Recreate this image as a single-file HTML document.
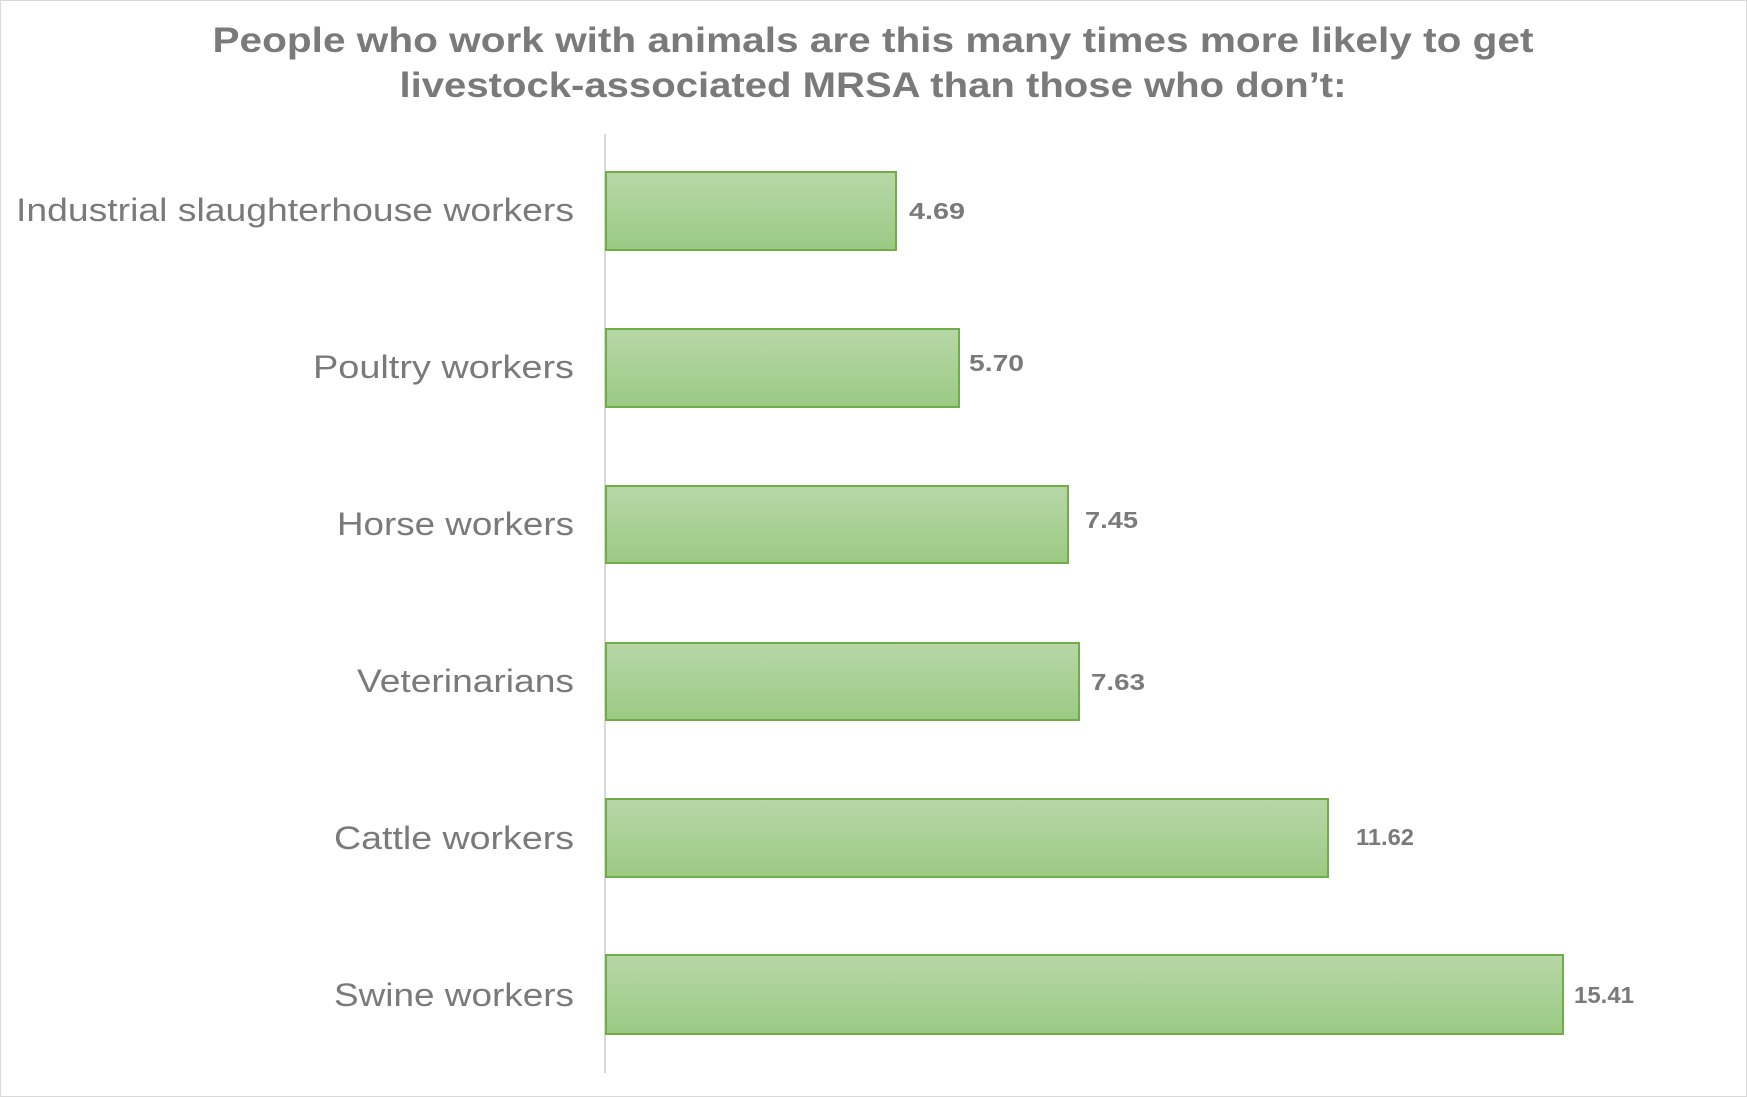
<!DOCTYPE html>
<html><head><meta charset="utf-8"><style>
body{margin:0;background:#fff;}
svg{display:block}
</style></head><body>
<svg width="1747" height="1097" xmlns="http://www.w3.org/2000/svg" font-family="Liberation Sans, sans-serif">
<defs><linearGradient id="g" x1="0" y1="0" x2="0" y2="1"><stop offset="0" stop-color="#b7d7a7"/><stop offset="1" stop-color="#9bca84"/></linearGradient></defs>
<rect x="0.5" y="0.5" width="1746" height="1096" fill="#fff" stroke="#d9d9d9"/>
<g fill="#7a7a7a" font-weight="bold" font-size="35" text-anchor="middle" lengthAdjust="spacingAndGlyphs">
<text x="873" y="52" textLength="1321" lengthAdjust="spacingAndGlyphs">People who work with animals are this many times more likely to get</text>
<text x="873" y="97" textLength="947" lengthAdjust="spacingAndGlyphs">livestock-associated MRSA than those who don’t:</text>
</g>
<line x1="605" y1="134" x2="605" y2="1073" stroke="#d9d9d9" stroke-width="2"/>
<g fill="url(#g)" stroke="#70ad47" stroke-width="2">
<rect x="606" y="172" width="290" height="78"/>
<rect x="606" y="329" width="353" height="78"/>
<rect x="606" y="486" width="462" height="77"/>
<rect x="606" y="643" width="473" height="77"/>
<rect x="606" y="799" width="722" height="78"/>
<rect x="606" y="955" width="957" height="79"/>
</g>
<g fill="#7a7a7a" font-size="32" text-anchor="end">
<text x="574" y="221" textLength="558" lengthAdjust="spacingAndGlyphs">Industrial slaughterhouse workers</text>
<text x="574" y="378" textLength="261" lengthAdjust="spacingAndGlyphs">Poultry workers</text>
<text x="574" y="535" textLength="237" lengthAdjust="spacingAndGlyphs">Horse workers</text>
<text x="574" y="692" textLength="217" lengthAdjust="spacingAndGlyphs">Veterinarians</text>
<text x="574" y="849" textLength="240" lengthAdjust="spacingAndGlyphs">Cattle workers</text>
<text x="574" y="1006" textLength="240" lengthAdjust="spacingAndGlyphs">Swine workers</text>
</g>
<g fill="#7a7a7a" font-size="23" font-weight="bold">
<text x="909" y="219" textLength="56" lengthAdjust="spacingAndGlyphs">4.69</text>
<text x="969" y="371" textLength="55" lengthAdjust="spacingAndGlyphs">5.70</text>
<text x="1085" y="528" textLength="53" lengthAdjust="spacingAndGlyphs">7.45</text>
<text x="1091" y="690" textLength="54" lengthAdjust="spacingAndGlyphs">7.63</text>
<text x="1356" y="845" textLength="58" lengthAdjust="spacingAndGlyphs">11.62</text>
<text x="1574" y="1003" textLength="60" lengthAdjust="spacingAndGlyphs">15.41</text>
</g>
</svg>
</body></html>
